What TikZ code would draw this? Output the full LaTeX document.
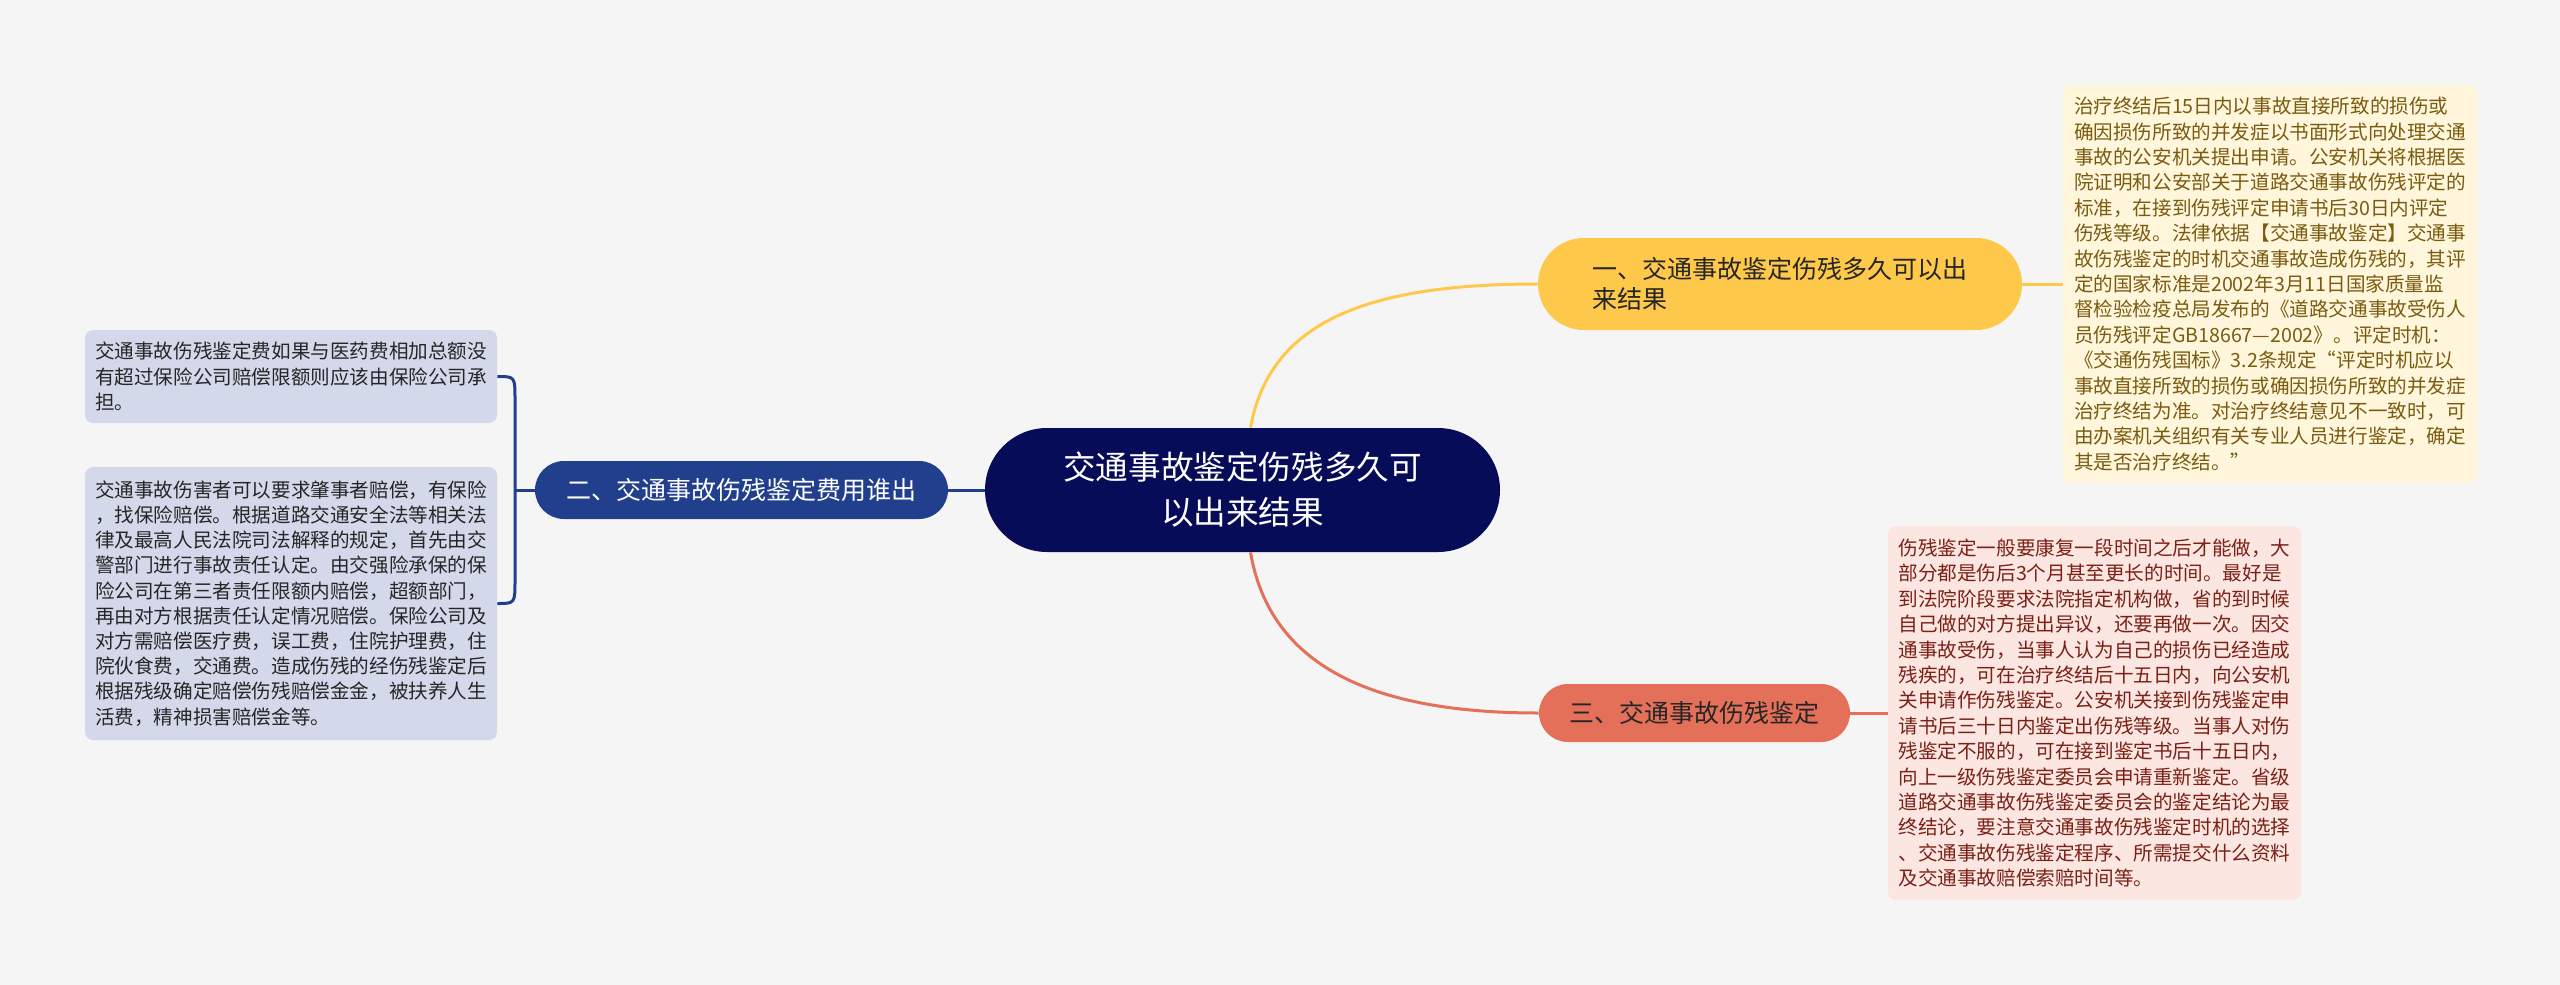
\documentclass[tikz,border=0pt]{standalone}
\usepackage{fontspec}
\setmainfont{Noto Sans CJK SC}
\usetikzlibrary{calc}
\definecolor{figBg}{HTML}{F5F5F5}
\definecolor{figN}{HTML}{070C58}
\definecolor{figB}{HTML}{213F8D}
\definecolor{figY}{HTML}{FEC84A}
\definecolor{figR}{HTML}{E4705A}
\definecolor{leafB}{HTML}{D3D9EA}
\definecolor{leafY}{HTML}{FFF6DC}
\definecolor{leafR}{HTML}{FBE6E2}
\definecolor{txtY}{HTML}{7A5B10}
\definecolor{txtR}{HTML}{7B2015}

\begin{document}
\begin{tikzpicture}[x=0.5pt,y=-0.5pt,
  root/.style={fill=figN,text=white,rounded corners=31pt,minimum width=257.5pt,minimum height=62pt,
     inner sep=0pt,align=center,font=\fontsize{16.3}{22.5}\selectfont},
  topic/.style={inner sep=0pt,minimum height=29pt,rounded corners=14.5pt,align=left,
     font=\fontsize{12.5}{15}\selectfont},
  leaf/.style={inner sep=0pt,rounded corners=4pt,align=left},
  leafl/.style={leaf,fill=leafB,text=black!85,minimum width=206pt,font=\fontsize{9.8}{12.6}\selectfont},
  leafr/.style={leaf,font=\fontsize{9.8}{12.7}\selectfont},
  link/.style={line width=1.5pt}]
\useasboundingbox (0,0) rectangle (2560,985);
\fill[figBg] (0,0) rectangle (2560,985);

% centre and topics
\node[root] (ctr) at (1242.5,490) {交通事故鉴定伤残多久可\\以出来结果};
\node[topic,fill=figB,text=white,minimum width=206.5pt] (blu) at (741.5,490) {二、交通事故伤残鉴定费用谁出};
\node[topic,fill=figY,text=black!85,minimum height=46pt,rounded corners=23pt,minimum width=242pt] (yel) at (1780,284)
  {一、交通事故鉴定伤残多久可以出\\来结果};
\node[topic,fill=figR,text=black!85,minimum width=155.5pt] (red) at (1694.5,713) {三、交通事故伤残鉴定};

% leaves
\node[leafl,minimum height=46.5pt] (l1) at (291,376.5)
  {交通事故伤残鉴定费如果与医药费相加总额没\\有超过保险公司赔偿限额则应该由保险公司承\\担。};
\node[leafl,minimum height=136.5pt] (l2) at (291,603.5)
  {交通事故伤害者可以要求肇事者赔偿，有保险\\，找保险赔偿。根据道路交通安全法等相关法\\律及最高人民法院司法解释的规定，首先由交\\警部门进行事故责任认定。由交强险承保的保\\险公司在第三者责任限额内赔偿，超额部门，\\再由对方根据责任认定情况赔偿。保险公司及\\对方需赔偿医疗费，误工费，住院护理费，住\\院伙食费，交通费。造成伤残的经伤残鉴定后\\根据残级确定赔偿伤残赔偿金金，被扶养人生\\活费，精神损害赔偿金等。};
\node[leafr,fill=leafY,text=txtY,minimum width=207pt,minimum height=199pt] (rt) at (2270,284)
  {治疗终结后15日内以事故直接所致的损伤或\\确因损伤所致的并发症以书面形式向处理交通\\事故的公安机关提出申请。公安机关将根据医\\院证明和公安部关于道路交通事故伤残评定的\\标准，在接到伤残评定申请书后30日内评定\\伤残等级。法律依据【交通事故鉴定】交通事\\故伤残鉴定的时机交通事故造成伤残的，其评\\定的国家标准是2002年3月11日国家质量监\\督检验检疫总局发布的《道路交通事故受伤人\\员伤残评定GB18667—2002》。评定时机：\\《交通伤残国标》3.2条规定“评定时机应以\\事故直接所致的损伤或确因损伤所致的并发症\\治疗终结为准。对治疗终结意见不一致时，可\\由办案机关组织有关专业人员进行鉴定，确定\\其是否治疗终结。”};
\node[leafr,fill=leafR,text=txtR,minimum width=206.5pt,minimum height=187pt] (rb) at (2094.5,713)
  {伤残鉴定一般要康复一段时间之后才能做，大\\部分都是伤后3个月甚至更长的时间。最好是\\到法院阶段要求法院指定机构做，省的到时候\\自己做的对方提出异议，还要再做一次。因交\\通事故受伤，当事人认为自己的损伤已经造成\\残疾的，可在治疗终结后十五日内，向公安机\\关申请作伤残鉴定。公安机关接到伤残鉴定申\\请书后三十日内鉴定出伤残等级。当事人对伤\\残鉴定不服的，可在接到鉴定书后十五日内，\\向上一级伤残鉴定委员会申请重新鉴定。省级\\道路交通事故伤残鉴定委员会的鉴定结论为最\\终结论，要注意交通事故伤残鉴定时机的选择\\、交通事故伤残鉴定程序、所需提交什么资料\\及交通事故赔偿索赔时间等。};

% connectors
\coordinate (fork) at (515,490);
\draw[link,figB] (ctr.west) -- (blu.east);
\draw[link,figB] (blu.west) -- (fork);
\draw[link,figB] (l1.east) .. controls (515,376.5) .. (515,400) -- (515,580) .. controls (515,603.5) .. (l2.east);
\draw[link,figY] ([xshift=4pt]ctr.north) .. controls (1270,320) and (1370,284) .. (yel.west);
\draw[link,figR] ([xshift=4pt]ctr.south) .. controls (1270,665) and (1370,713) .. (red.west);
\draw[link,figY] (yel.east) -- (rt.west);
\draw[link,figR] (red.east) -- (rb.west);
\end{tikzpicture}
\end{document}
